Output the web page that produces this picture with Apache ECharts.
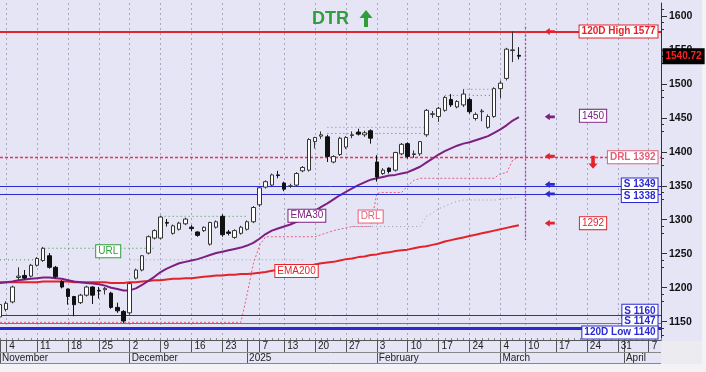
<!DOCTYPE html>
<html><head><meta charset="utf-8">
<script src="https://cdn.jsdelivr.net/npm/echarts@6/dist/echarts.min.js"></script>
<style>html,body{margin:0;padding:0;background:#fff}#c{width:706px;height:372px}</style>
</head><body><div id="c"></div>
<script>
// ---------- DATA ----------
const categories = [
'2024-11-01',
'2024-11-04','2024-11-05','2024-11-06','2024-11-07','2024-11-08',
'2024-11-11','2024-11-12','2024-11-13','2024-11-14','2024-11-15',
'2024-11-18','2024-11-19','2024-11-20','2024-11-21','2024-11-22',
'2024-11-25','2024-11-26','2024-11-27','2024-11-28','2024-11-29',
'2024-12-02','2024-12-03','2024-12-04','2024-12-05','2024-12-06',
'2024-12-09','2024-12-10','2024-12-11','2024-12-12','2024-12-13',
'2024-12-16','2024-12-17','2024-12-18','2024-12-19','2024-12-20',
'2024-12-23','2024-12-24','2024-12-27','2024-12-30',
'2025-01-02','2025-01-03',
'2025-01-07','2025-01-08','2025-01-09','2025-01-10',
'2025-01-13','2025-01-14','2025-01-15','2025-01-16','2025-01-17',
'2025-01-20','2025-01-21','2025-01-22','2025-01-23','2025-01-24',
'2025-01-27','2025-01-28','2025-01-29','2025-01-30','2025-01-31',
'2025-02-03','2025-02-04','2025-02-05','2025-02-06','2025-02-07',
'2025-02-10','2025-02-11','2025-02-12','2025-02-13','2025-02-14',
'2025-02-17','2025-02-18','2025-02-19','2025-02-20','2025-02-21',
'2025-02-24','2025-02-25','2025-02-26','2025-02-27','2025-02-28',
'2025-03-04','2025-03-05','2025-03-06','2025-03-07',
'2025-03-10','2025-03-11','2025-03-12','2025-03-13','2025-03-14',
'2025-03-17','2025-03-18','2025-03-19','2025-03-20','2025-03-21',
'2025-03-24','2025-03-25','2025-03-26','2025-03-27','2025-03-28',
'2025-03-31','2025-04-01','2025-04-02','2025-04-03','2025-04-04',
'2025-04-07','2025-04-08','2025-04-09'
];
const weekTicks = ['2024-11-04','2024-11-11','2024-11-18','2024-11-25','2024-12-02','2024-12-09','2024-12-16','2024-12-23',
'2025-01-07','2025-01-13','2025-01-20','2025-01-27','2025-02-03','2025-02-10','2025-02-17','2025-02-24',
'2025-03-04','2025-03-10','2025-03-17','2025-03-24','2025-03-31','2025-04-07'];
const monthTicks = {'2024-11-01':'November','2024-12-02':'December','2025-01-02':'2025','2025-02-03':'February','2025-03-04':'March','2025-04-01':'April'};
const yLabelValues = [1150,1200,1250,1300,1350,1400,1450,1500,1550,1600];

const open  = [1157,1168,1179,1215,1218,1217,1233,1240,1247,1230,1209,1198,1187,1178,1189,1201,1196,1197,1192,1171,1165,
1163,1214,1226,1251,1273,1273,1296,1280,1286,1294,1289,1282,1284,1264,1289,1305,1282,1274,1280,
1286,1297,1322,1348,1351,1366,1354,1349,1351,1372,1373,1415,1423,1422,1385,1396,1407,1424,1429,1425,1431,
1385,1368,1376,1373,1397,1412,1396,1397,1425,1455,1452,1461,1477,1466,1469,1477,1449,1459,1436,1452,
1493,1508,1549,1542];
const close = [1175,1177,1201,1217,1214,1233,1243,1258,1230,1216,1201,1187,1175,1189,1201,1189,1195,1199,1171,1166,1151,
1206,1226,1247,1275,1284,1304,1295,1291,1295,1301,1287,1277,1289,1296,1297,1278,1280,1284,1289,
1297,1318,1347,1356,1366,1365,1345,1350,1368,1377,1418,1421,1425,1393,1393,1420,1421,1425,1426,1428,1420,
1363,1373,1371,1399,1411,1393,1397,1415,1461,1456,1464,1480,1469,1474,1485,1459,1455,1460,1452,1493,
1501,1551,1550,1540.72];
const low   = [1155,1165,1177,1211,1212,1215,1231,1238,1228,1214,1199,1175,1158,1176,1187,1176,1184,1190,1169,1163,1148,
1160,1212,1224,1249,1271,1271,1290,1278,1284,1292,1283,1275,1282,1262,1287,1275,1277,1272,1278,
1284,1295,1319,1346,1349,1361,1342,1347,1349,1370,1371,1405,1419,1385,1383,1394,1404,1420,1424,1422,1412,
1356,1366,1368,1371,1395,1390,1391,1394,1422,1450,1444,1459,1466,1464,1466,1456,1446,1445,1434,1450,
1479,1505,1532,1536];
const high  = [1177,1180,1203,1230,1226,1235,1245,1260,1251,1232,1211,1199,1188,1191,1203,1202,1201,1201,1194,1178,1167,
1208,1228,1248,1277,1286,1306,1301,1293,1297,1303,1292,1283,1290,1297,1299,1308,1285,1286,1291,
1299,1320,1348,1358,1368,1372,1356,1353,1370,1379,1420,1422,1430,1425,1395,1422,1423,1430,1434,1431,1433,
1395,1376,1377,1400,1413,1414,1402,1416,1463,1460,1466,1482,1485,1476,1492,1480,1458,1463,1455,1495,
1505,1553,1577,1554];

const ema30 = [1207,1208,1209,1211,1212,1213,1214,1215,1215,1214,1213,1211,1209,1208,1207,1206,1205,1203,1200,1198,1196,
1196,1199,1204,1210,1216,1223,1228,1232,1236,1238,1240,1242,1245,1248,1251,1253,1255,1257,1259,
1262,1266,1272,1279,1284,1287,1290,1293,1297,1300,1306,1313,1319,1324,1330,1336,1341,1346,1351,1355,1359,
1361,1363,1365,1366,1368,1370,1374,1378,1384,1390,1396,1401,1405,1409,1412,1414,1417,1420,1423,1428,
1433,1439,1446,1451];
const ema200 = [1208,1208,1208,1208,1208,1208,1208,1209,1209,1209,1209,1209,1208,1208,1208,1208,1208,1208,1207,1207,1207,
1208,1208,1209,1210,1211,1211,1212,1213,1213,1214,1214,1215,1216,1217,1218,1218,1219,1219,1220,
1220,1221,1222,1223,1225,1226,1227,1228,1229,1231,1232,1234,1236,1237,1238,1240,1242,1243,1245,1246,1248,
1249,1251,1252,1254,1255,1256,1258,1260,1261,1263,1265,1268,1270,1272,1274,1276,1278,1280,1282,1284,
1286,1288,1290,1292];
const drlTrail = [1149,1149,1149,1149,1149,1149,1149,1149,1149,1149,1149,1149,1149,1149,1149,1149,1149,1149,1149,1149,1149,
1149,1149,1149,1149,1149,1149,1149,1149,1149,1149,1149,1149,1149,1149,1149,1149,1149,1149,1149,
1190,1235,1262,1275,1275,1275,1275,1275,1275,1275,1275,1275,1278,1281,1284,1286,1288,1290,1290,1290,1290,
1339,1340,1340,1340,1340,1350,1358,1361,1361,1361,1361,1361,1361,1361,1361,1361,1361,1361,1361,1361,
1368,1369,1388,1392];
const urlLine = [1241,1241,1241,1241,1241,1241,1241,1258,1258,1258,1258,1258,1258,1258,1258,1258,1258,1258,1258,1258,1258,
1258,1258,1258,1258,null,1305,1305,1305,1305,1305,1305,1305,1305,1305,1305,1305,1305,1305,1305,
null,null,null,null,null,null,null,null,null,null,null,null,null,1427,1427,1427,1427,1427,1427,1427,1427,
1427,1427,1427,1427,1427,1427,1427,1427,null,null,null,1483,1483,1483,1483,1483,1483,1483,1483,null,
null,null,null,null];
const upperDots = [null,null,null,null,null,null,null,null,null,null,null,null,null,null,null,null,null,null,null,null,null,
null,null,null,null,null,null,null,null,null,null,null,null,null,null,null,null,null,null,null,
null,null,null,null,null,null,null,null,null,null,null,null,null,1436,1436,1436,1436,1436,1436,1436,1436,
1436,1436,1436,1436,1436,1436,1436,1436,null,null,null,null,null,null,1492,1492,1492,1492,1492,null,
null,null,null,null];
const lowerDots = [null,null,null,null,null,null,null,null,null,null,null,null,null,null,null,null,null,null,null,null,null,
1241,1241,1241,1241,1241,1241,1241,1241,1241,1241,1241,1241,1241,1241,1241,1241,1241,1241,1241,
1241,1241,1241,1241,1241,1241,1241,1241,1241,1241,null,null,null,null,null,null,null,1290,1290,1290,1290,
1290,1290,1290,1290,1290,1290,1290,1290,1305,1310,1316,1320,1324,1327,1329,1329,1329,1329,1329,1329,
1330,1331,1332,1333];

const levelTexts  = ['120D High 1577','DRL 1392','S 1349','S 1338','S 1160','S 1147','120D Low 1140'];
const levelValues = [1577,1392,1349,1338,1160,1147,1140];
const lastClose = 1540.72;
const ema30Last = 1450, ema200Last = 1292;

// ---------- STYLE ----------
const FONT = '"Liberation Sans", Arial, sans-serif';
const RED = '#E3232B', BLUE = '#2A2AD4', PURPLE = '#7D1F80', PINK = '#E2607A', GREEN = '#2F9E3B';
const levelStyles = [
  {color:RED, width:2, type:'solid', dy:0, tag:RED},
  {color:'#F0305A', width:1.3, type:[3,2], dy:0, tag:PINK},
  {color:BLUE, width:1, type:'solid', dy:-2, tag:BLUE},
  {color:BLUE, width:1, type:'solid', dy:2, tag:BLUE},
  {color:BLUE, width:1, type:'solid', dy:-4, tag:BLUE},
  {color:'#6A6AE0', width:1, type:'solid', dy:-2, tag:BLUE},
  {color:BLUE, width:3, type:'solid', dy:4, tag:BLUE}
];
const lastIdx = categories.length - 1;
const arrowDay = categories[89];
const boxDay = categories[96];
const weekSet = new Set(weekTicks);
const isWeek = (i, v) => weekSet.has(v);
const isMonth = (i, v) => monthTicks[v] !== undefined;
const LEFT_ARROW = 'path://M0,5L6,0L6,3L12,3L12,7L6,7L6,10Z';
const DOWN_ARROW = 'path://M3,0L7,0L7,9L10,9L5,15L0,9L3,9Z';

function boxLabel(text, color, opts) {
  return Object.assign({
    show: true, formatter: text, color: color, fontFamily: FONT, fontSize: 10, fontWeight: 'bold',
    backgroundColor: '#fff', borderColor: color, borderWidth: 1, padding: [1, 2, 0, 2], lineHeight: 11
  }, opts || {});
}
function tagPoint(day, value, text, color, opts) {
  return {coord: [day, value], symbol: 'rect', symbolSize: 1, itemStyle: {color: 'rgba(0,0,0,0)'},
    label: boxLabel(text, color, opts)};
}
function arrowPoint(value, color, dy) {
  return {coord: [arrowDay, value], symbol: LEFT_ARROW, symbolSize: [10, 7], symbolOffset: [0, dy || 0],
    itemStyle: {color: color}, label: {show: false}};
}

const candles = open.map((o, i) => [o, close[i], low[i], high[i]]);

const chart = echarts.init(document.getElementById('c'), null, {renderer: 'canvas'});
chart.setOption({
  animation: false,
  backgroundColor: '#E5E5F6',
  grid: {left: 0, top: 3, width: 661, height: 337, outerBoundsMode: 'none', containLabel: false},
  xAxis: [
    {type: 'category', data: categories, boundaryGap: false, position: 'bottom',
     axisLine: {show: true, lineStyle: {color: '#555', width: 1}},
     axisTick: {show: true, interval: isWeek, length: 12, lineStyle: {color: '#555'}},
     axisLabel: {show: true, interval: isWeek, formatter: v => String(parseInt(v.slice(8), 10)),
       align: 'left', margin: 1, padding: [0, 0, 0, 3], fontSize: 10, fontFamily: FONT, color: '#222'},
     splitLine: {show: true, interval: isWeek, lineStyle: {type: [2, 3], color: '#A6A6C0', width: 1}}},
    {type: 'category', data: categories, boundaryGap: false, position: 'bottom',
     axisLine: {show: false},
     axisTick: {show: true, interval: isMonth, length: 23, lineStyle: {color: '#555'}},
     axisLabel: {show: true, interval: isMonth, formatter: v => monthTicks[v] || '',
       align: 'left', margin: 13, padding: [0, 0, 0, 2], fontSize: 10, fontFamily: FONT, color: '#222'},
     splitLine: {show: false}},
    {type: 'category', data: categories, boundaryGap: false, position: 'bottom',
     axisLine: {show: false},
     axisTick: {show: true, interval: 0, inside: true, length: 2, lineStyle: {color: '#888'}},
     axisLabel: {show: false}, splitLine: {show: false}}
  ],
  yAxis: [
    {type: 'value', position: 'right', min: 1123, max: 1619, scale: true,
     axisLine: {show: true, lineStyle: {color: '#333'}},
     axisTick: {show: true, length: 3, customValues: yLabelValues.flatMap(v => [v - 20, v - 10, v]).concat([1610]), lineStyle: {color: '#333'}},
     axisLabel: {show: false}, splitLine: {show: false}},
    {type: 'value', position: 'right', min: 1123, max: 1619, scale: true,
     axisLine: {show: false},
     axisTick: {show: true, length: 6, customValues: yLabelValues, lineStyle: {color: '#333'}},
     axisLabel: {show: true, customValues: yLabelValues, formatter: v => String(v), margin: 8, fontSize: 10.5, fontWeight: 'bold', fontFamily: FONT, color: '#111'},
     splitLine: {show: false}}
  ],
  series: [
    {name: 'lowerDots', type: 'line', data: lowerDots, symbol: 'none', connectNulls: false,
     lineStyle: {color: '#9A9AA8', width: 1, type: [1, 3]}, z: 2},
    {name: 'upperDots', type: 'line', data: upperDots, symbol: 'none', step: 'end', connectNulls: false,
     lineStyle: {color: PINK, width: 1, type: [1, 3]}, z: 2},
    {name: 'URL', type: 'line', data: urlLine, symbol: 'none', step: 'end', connectNulls: false,
     lineStyle: {color: GREEN, width: 1, type: [1, 3]}, z: 2,
     markPoint: {data: [tagPoint(categories[18], 1258, 'URL', GREEN, {fontWeight: 'normal', position: 'inside', offset: [-3, 3]})]}},
    {name: 'DRL', type: 'line', data: drlTrail, symbol: 'none', connectNulls: false,
     lineStyle: {color: PINK, width: 1, type: [2, 2]}, z: 3,
     markPoint: {data: [tagPoint(categories[60], drlTrail[60], 'DRL', PINK, {fontWeight: 'normal', position: 'inside', offset: [0, -10]})]}},
    {name: 'EMA200', type: 'line', data: ema200, symbol: 'none',
     lineStyle: {color: RED, width: 2}, z: 4,
     markPoint: {data: [tagPoint(categories[48], ema200[48], 'EMA200', RED, {fontWeight: 'normal', position: 'inside', offset: [0, 3]})]}},
    {name: 'EMA30', type: 'line', data: ema30, symbol: 'none',
     lineStyle: {color: PURPLE, width: 2}, z: 4,
     markPoint: {data: [tagPoint(categories[50], ema30[50], 'EMA30', PURPLE, {fontWeight: 'normal', position: 'inside', offset: [-2, 0]})]}},
    {name: 'price', type: 'candlestick', data: candles, barWidth: 4, z: 5,
     itemStyle: {color: '#FFFFFF', color0: '#111111', borderColor: '#333333', borderColor0: '#111111', borderWidth: 1},
     markLine: {silent: true, symbol: ['none', 'none'], label: {show: false},
       data: levelValues.map((v, k) => ({yAxis: v, lineStyle: {color: levelStyles[k].color, width: levelStyles[k].width, type: levelStyles[k].type, opacity: 1}}))
         .concat([[{coord: [categories[85], 1584], lineStyle: {color: '#B040A8', width: 1.3, type: [2, 2], opacity: 1}}, {coord: [categories[85], 1270]}]])},
     markPoint: {z: 10, data:
       levelValues.map((v, k) => tagPoint(categories[lastIdx], v, levelTexts[k], levelStyles[k].tag,
         {position: 'left', distance: 3, offset: [0, levelStyles[k].dy]}))
       .concat([
         tagPoint(categories[lastIdx], lastClose, lastClose.toFixed(2), '#FF2020',
           {position: 'right', distance: 2, backgroundColor: '#000', borderColor: '#000', fontSize: 10, padding: [2, 2, 1, 2]}),
         tagPoint(boxDay, ema30Last, String(ema30Last), PURPLE, {position: 'inside', fontWeight: 'normal', offset: [0, -2]}),
         tagPoint(boxDay, ema200Last, String(ema200Last), RED, {position: 'inside', fontWeight: 'normal', offset: [0, -2]}),
         arrowPoint(1577, RED, 0),
         arrowPoint(ema30Last, PURPLE, -1),
         arrowPoint(1392, RED, -1),
         arrowPoint(1349, BLUE, -2),
         arrowPoint(1338, BLUE, 0),
         arrowPoint(ema200Last, RED, -2),
         {coord: [boxDay, 1392], symbol: DOWN_ARROW, symbolSize: [9, 13], symbolOffset: [0, 5], itemStyle: {color: RED}, label: {show: false}}
       ])}}
  ],
  graphic: [
    {type: 'rect', shape: {x: 702, y: 0, width: 4, height: 372}, style: {fill: '#F3F3F7'}, z: 0},
    {type: 'rect', shape: {x: 0, y: 364, width: 706, height: 8}, style: {fill: '#F3F3F7'}, z: 0},
    {type: 'rect', shape: {x: 661, y: 341, width: 41, height: 23}, style: {fill: '#ECECF0'}, z: 0},
    {type: 'line', shape: {x1: 0, y1: 352.5, x2: 661, y2: 352.5}, style: {stroke: '#888', lineWidth: 1}, z: 100},
    {type: 'line', shape: {x1: 0, y1: 363.5, x2: 661, y2: 363.5}, style: {stroke: '#888', lineWidth: 1}, z: 100},
    {type: 'text', left: 312, top: 10, style: {text: 'DTR', fill: GREEN, font: 'bold 18px ' + FONT}, z: 100},
    {type: 'polygon', shape: {points: [[366, 10], [359.5, 18], [364, 18], [364, 27], [368, 27], [368, 18], [372.5, 18]]}, style: {fill: GREEN}, z: 100}
  ]
});
</script>
</body></html>
